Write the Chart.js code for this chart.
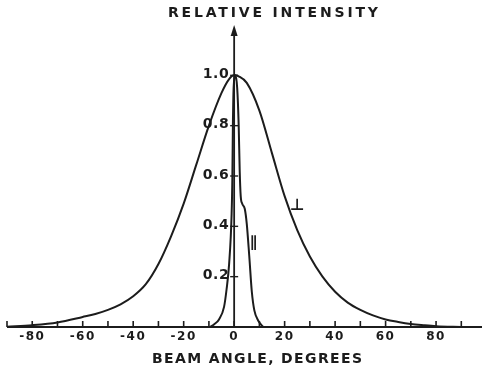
<!DOCTYPE html>
<html lang="en">
<head>
  <meta charset="UTF-8" />
  <title>Relative Intensity vs Beam Angle</title>
  <script src="https://cdn.jsdelivr.net/npm/chart.js"></script>
  <style>
    html, body { margin: 0; padding: 0; background: #fff; }
    .chart-wrapper { width: 482px; height: 368px; }
  </style>
</head>
<body>
  <div class="chart-wrapper">
    <canvas id="myChart" width="482" height="368"></canvas>
  </div>

  <script>
    // perpendicular polarisation (wide curve)
    const perpAngle = [-90, -80, -70, -60, -55, -50, -45, -40, -35, -30, -25, -20, -15, -10, -5, -2, 0,
                       2, 5, 10, 15, 20, 25, 30, 35, 40, 45, 50, 55, 60, 65, 70, 75, 80, 90];
    const perpIntensity = [0.001, 0.007, 0.018, 0.04, 0.052, 0.068, 0.09, 0.122, 0.17, 0.25, 0.36, 0.49, 0.645, 0.80, 0.93, 0.985, 1.0,
                           0.995, 0.97, 0.86, 0.69, 0.52, 0.385, 0.28, 0.2, 0.14, 0.097, 0.068, 0.046, 0.03, 0.02, 0.012, 0.007, 0.003, 0];

    // parallel polarisation (narrow curve)
    const paraAngle = [-9.5, -8, -6, -4, -3, -2, -1, -0.7, -0.5, -0.2, 0.5, 1.2, 1.8, 2.2, 2.6, 3.2, 4.2, 5, 6, 7, 8, 9.5, 11.5];
    const paraIntensity = [0, 0.01, 0.03, 0.08, 0.15, 0.25, 0.45, 0.6, 0.8, 0.95, 1.0, 0.95, 0.8, 0.62, 0.52, 0.49, 0.47, 0.41, 0.28, 0.14, 0.066, 0.026, 0];

    const xTickValues = [-90, -80, -70, -60, -50, -40, -30, -20, -10, 0, 10, 20, 30, 40, 50, 60, 70, 80, 90];
    const xLabelValues = [-80, -60, -40, -20, 0, 20, 40, 60, 80];
    const xLabels = ["-80", "-60", "-40", "-20", "0", "20", "40", "60", "80"];
    const yTickValues = [0.2, 0.4, 0.6, 0.8, 1.0];
    const yLabels = ["0.2", "0.4", "0.6", "0.8", "1.0"];

    const INK = "#1c1c1c";
    const FONT = "'DejaVu Sans', sans-serif";

    function toPoints(xs, ys) {
      return xs.map((x, i) => ({ x: x, y: ys[i] }));
    }

    // text with letter spacing stretched to a given width
    function spacedText(ctx, text, cx, cy, width, font) {
      ctx.font = font;
      ctx.letterSpacing = "0px";
      const plain = ctx.measureText(text).width;
      const ls = Math.max(0, (width - plain) / (text.length - 1));
      ctx.letterSpacing = ls + "px";
      ctx.textAlign = "left";
      ctx.textBaseline = "middle";
      ctx.fillText(text, cx - width / 2, cy);
      ctx.letterSpacing = "0px";
    }

    const axesPlugin = {
      id: "drawnAxes",
      beforeDatasetsDraw(chart) {
        const ctx = chart.ctx;
        const xs = chart.scales.x;
        const ys = chart.scales.y;
        const y0 = ys.getPixelForValue(0);
        const x0 = xs.getPixelForValue(0);
        ctx.save();
        ctx.strokeStyle = INK;
        ctx.fillStyle = INK;
        ctx.lineWidth = 2;

        // horizontal axis
        ctx.beginPath();
        ctx.moveTo(xs.getPixelForValue(-90), y0);
        ctx.lineTo(chart.chartArea.right, y0);
        ctx.stroke();
        ctx.lineWidth = 1.6;
        xTickValues.forEach(v => {
          const px = xs.getPixelForValue(v);
          ctx.beginPath();
          ctx.moveTo(px, y0);
          ctx.lineTo(px, y0 - 6);
          ctx.stroke();
        });

        // vertical axis with arrow
        const top = ys.getPixelForValue(1.2);
        ctx.lineWidth = 1.8;
        ctx.beginPath();
        ctx.moveTo(x0, y0);
        ctx.lineTo(x0, top + 6);
        ctx.stroke();
        ctx.beginPath();
        ctx.moveTo(x0, top);
        ctx.lineTo(x0 - 3.5, top + 11);
        ctx.lineTo(x0 + 3.5, top + 11);
        ctx.closePath();
        ctx.fill();
        ctx.lineWidth = 1.4;
        yTickValues.forEach(v => {
          const py = ys.getPixelForValue(v);
          ctx.beginPath();
          ctx.moveTo(x0 - 4, py);
          ctx.lineTo(x0 + 4, py);
          ctx.stroke();
        });
        ctx.restore();
      },
      afterDraw(chart) {
        const ctx = chart.ctx;
        const xs = chart.scales.x;
        const ys = chart.scales.y;
        const y0 = ys.getPixelForValue(0);
        const x0 = xs.getPixelForValue(0);
        ctx.save();
        ctx.fillStyle = INK;

        // x tick labels
        ctx.font = "bold 12px " + FONT;
        ctx.letterSpacing = "1.5px";
        ctx.textAlign = "center";
        ctx.textBaseline = "middle";
        xLabelValues.forEach((v, i) => {
          ctx.fillText(xLabels[i], xs.getPixelForValue(v), y0 + 10);
        });

        // y tick labels
        ctx.font = "bold 14px " + FONT;
        ctx.letterSpacing = "0.5px";
        ctx.textAlign = "right";
        yTickValues.forEach((v, i) => {
          ctx.fillText(yLabels[i], x0 - 5, ys.getPixelForValue(v) - 1);
        });
        ctx.letterSpacing = "0px";

        // axis titles
        spacedText(ctx, "RELATIVE INTENSITY", 273, 13, 210, "bold 14px " + FONT);
        spacedText(ctx, "BEAM ANGLE, DEGREES", 257, 359, 210, "bold 14px " + FONT);

        // curve markers
        ctx.font = "bold 16px " + FONT;
        ctx.textAlign = "center";
        ctx.textBaseline = "middle";
        ctx.fillText("\u22A5", xs.getPixelForValue(25), ys.getPixelForValue(0.48));
        ctx.font = "bold 15px " + FONT;
        ctx.fillText("\u2225", xs.getPixelForValue(7.6), ys.getPixelForValue(0.335));
        ctx.restore();
      }
    };

    const ctx = document.getElementById("myChart").getContext("2d");
    const myChart = new Chart(ctx, {
      type: "line",
      data: {
        datasets: [
          {
            label: "perpendicular",
            data: toPoints(perpAngle, perpIntensity),
            borderColor: INK,
            borderWidth: 2,
            pointRadius: 0,
            cubicInterpolationMode: "monotone",
            fill: false
          },
          {
            label: "parallel",
            data: toPoints(paraAngle, paraIntensity),
            borderColor: INK,
            borderWidth: 2,
            pointRadius: 0,
            cubicInterpolationMode: "monotone",
            fill: false
          }
        ]
      },
      options: {
        responsive: false,
        animation: false,
        layout: { padding: { left: 7, right: 0, top: 25, bottom: 41 } },
        plugins: {
          legend: { display: false },
          tooltip: { enabled: false }
        },
        scales: {
          x: { type: "linear", min: -90, max: 98.2, display: false },
          y: { type: "linear", min: 0, max: 1.2, display: false }
        }
      },
      plugins: [axesPlugin]
    });
  </script>
</body>
</html>
